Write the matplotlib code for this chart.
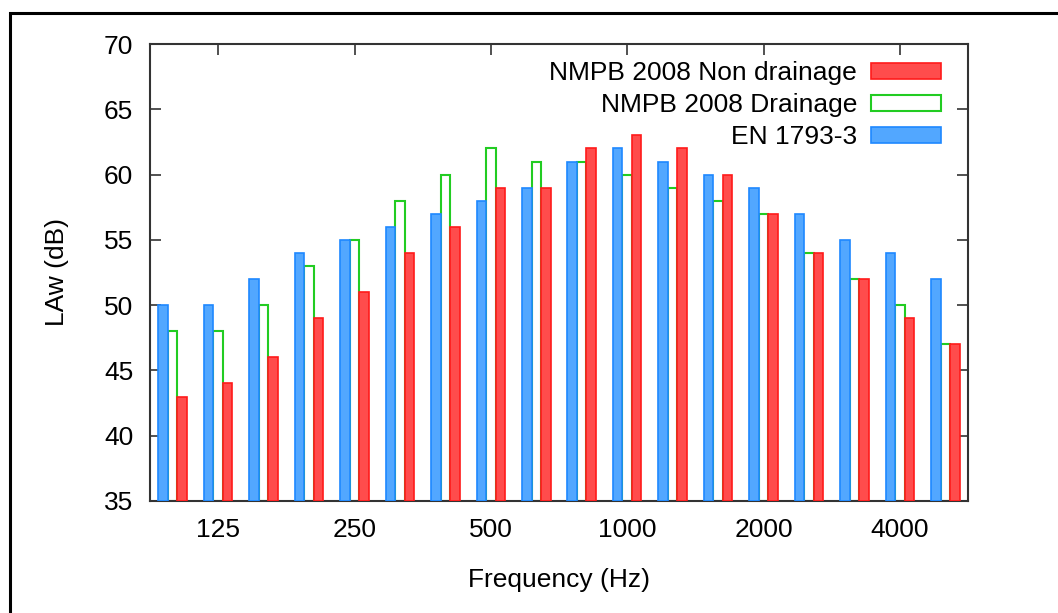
import numpy as np
import matplotlib.pyplot as plt
from matplotlib.patches import Rectangle

# bandes de tiers d'octave 100 Hz - 5000 Hz
bands = [100, 125, 160, 200, 250, 315, 400, 500, 630, 800,
         1000, 1250, 1600, 2000, 2500, 3150, 4000, 5000]
en1793 = [50, 50, 52, 54, 55, 56, 57, 58, 59, 61, 62, 61, 60, 59, 57, 55, 54, 52]
nmpb_drainage = [48, 48, 50, 53, 55, 58, 60, 62, 61, 61, 60, 59, 58, 57, 54, 52, 50, 47]
nmpb_non_drainage = [43, 44, 46, 49, 51, 54, 56, 59, 59, 62, 63, 62, 60, 57, 54, 52, 49, 47]
tick_labels = ['125', '250', '500', '1000', '2000', '4000']

plt.rcParams['font.family'] = ['Liberation Sans', 'DejaVu Sans']
plt.rcParams['font.size'] = 19

fig = plt.figure(figsize=(10.58, 6.13), dpi=100)
ax = fig.add_axes([150 / 1058, 1 - 501 / 613, 818 / 1058, 457 / 613])

x = np.arange(len(bands))
w = 0.21
base = 35

ax.bar(x + w, np.array(nmpb_non_drainage) - base, w, bottom=base, color='#ff4c4c',
       edgecolor='#ff1a1a', linewidth=1.2, label='NMPB 2008 Non drainage', zorder=3)
ax.bar(x, np.array(nmpb_drainage) - base, w, bottom=base, color='white',
       edgecolor='#22cc22', linewidth=1.5, label='NMPB 2008 Drainage', zorder=2)
ax.bar(x - w, np.array(en1793) - base, w, bottom=base, color='#52a7ff',
       edgecolor='#1e88ff', linewidth=1.2, label='EN 1793-3', zorder=3)

ax.set_xlim(-0.5, len(bands) - 0.5)
ax.set_ylim(35, 70)
ax.set_yticks(np.arange(35, 71, 5))
tick_pos = [bands.index(int(t)) for t in tick_labels]
ax.set_xticks(tick_pos)
ax.set_xticklabels(tick_labels)

ax.tick_params(axis='both', direction='in', length=8, width=1.2, color='#333333',
               top=True, right=True, pad=12)
for s in ax.spines.values():
    s.set_linewidth(1.5)
    s.set_color('#333333')

ax.set_xlabel('Frequency (Hz)')
ax.set_ylabel('LAw (dB)')
ax.xaxis.set_label_coords(0.5, -0.147)
ax.yaxis.set_label_coords(-0.099, 0.5)

ax.legend(loc='upper right', bbox_to_anchor=(0.967, 0.962), frameon=False,
          markerfirst=False, handlelength=2.65, handleheight=0.6,
          handletextpad=0.53, labelspacing=0.3, borderpad=0, borderaxespad=0)

# cadre autour de la figure
fig.patches.append(Rectangle((10 / 1058, -0.1), 1.2, 1 - 13.5 / 613 + 0.1,
                             transform=fig.transFigure, fill=False,
                             edgecolor='black', linewidth=2.2))

fig.savefig('out.png', dpi=100)
